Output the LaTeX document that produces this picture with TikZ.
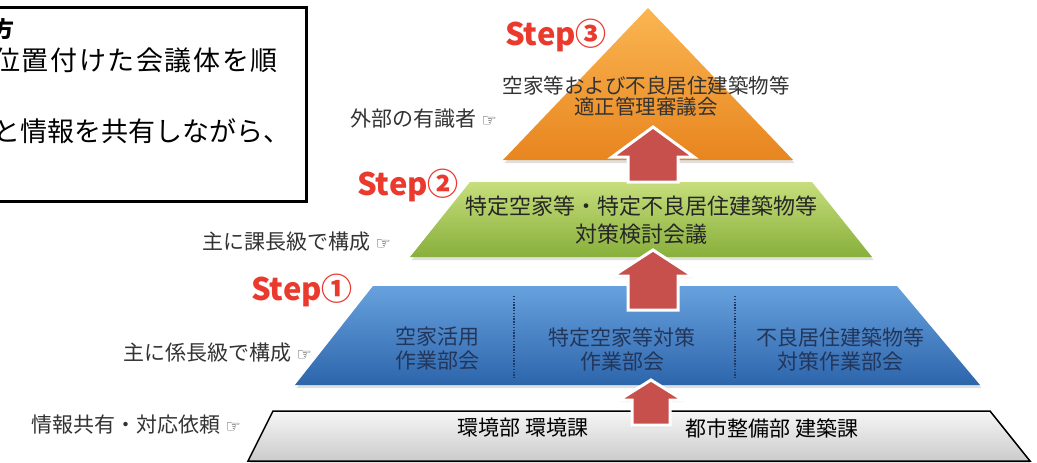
\documentclass[tikz,border=0pt]{standalone}
\usepackage{fontspec}
\newfontfamily\jp{Noto Sans CJK JP}
\newfontfamily\sym{DejaVu Sans}
\usetikzlibrary{shadows}
\definecolor{orgtop}{HTML}{FAB652}
\definecolor{orgbot}{HTML}{E8851F}
\definecolor{grntop}{HTML}{C6DE7C}
\definecolor{grnbot}{HTML}{88AF3B}
\definecolor{blutop}{HTML}{67A1DD}
\definecolor{blubot}{HTML}{2D65AC}
\definecolor{graytop}{HTML}{F6F6F6}
\definecolor{graybot}{HTML}{CBCBCB}
\definecolor{arrred}{HTML}{C8504C}
\definecolor{stepred}{HTML}{EA3A2E}
\definecolor{lblgray}{HTML}{333333}
\definecolor{navytxt}{HTML}{22355A}
\definecolor{divnavy}{HTML}{1F3864}
\newcommand\myuparrow[7]{% name, cx, tip, headbase, bottom, head half width, shaft half width
  \path[arrowst] (#2,#3) coordinate (#1tip) -- (#2+#6,#4) -- (#2+#7,#4) -- (#2+#7,#5) -- (#2-#7,#5) -- (#2-#7,#4) -- (#2-#6,#4) -- cycle;}
\newcommand\myhand{{\sym\fontsize{17}{17}\selectfont ☞}}
\begin{document}
\begin{tikzpicture}[x=1pt,y=-1pt,
  lbl/.style={font=\jp\fontsize{21}{24}\selectfont, text=lblgray, anchor=east, inner sep=0pt},
  steplbl/.style={font=\jp\bfseries\fontsize{31}{31}\selectfont, text=stepred, inner sep=0pt},
  lvl/.style={drop shadow={opacity=0.25, shadow xshift=1.5pt, shadow yshift=-3pt}},
  boxtxt/.style={font=\jp\fontsize{27}{30}\selectfont, anchor=east, inner sep=0pt},
  intxt/.style={align=center, inner sep=0pt},
  divider/.style={draw=divnavy, line width=1.8pt, dash pattern=on 1.4pt off 1.4pt},
  arrowst/.style={fill=arrred, draw=white, line width=3pt, line join=miter,
    drop shadow={opacity=0.2, shadow xshift=1pt, shadow yshift=-2pt}}]
\useasboundingbox (0,0) rectangle (1037,463);

% note box (cut by the left edge)
\path[draw=black, line width=3pt, fill=white,
  drop shadow={opacity=0.3, shadow xshift=2pt, shadow yshift=-2pt}]
  (-20,7) coordinate (boxnw) rectangle (306,201) coordinate (boxse);
\node[boxtxt, font=\jp\bfseries\fontsize{22}{24}\selectfont] (bx1) at (15,29) {方};
\node[boxtxt, font=\jp\fontsize{27}{30}\selectfont\addfontfeature{LetterSpace=6}] (bx2) at (278,60) {位置付けた会議体を順};
\node[boxtxt] (bx3) at (291,131) {と情報を共有しながら、};

% levels
\coordinate (o1) at (648,8);
\coordinate (o2) at (793,160);
\coordinate (o3) at (503,160);
\path[lvl, top color=orgtop, bottom color=orgbot] (o1) -- (o2) -- (o3) -- cycle;

\coordinate (g1) at (470,182);
\coordinate (g2) at (812,182);
\coordinate (g3) at (872,257);
\coordinate (g4) at (410,257);
\path[lvl, top color=grntop, bottom color=grnbot] (g1) -- (g2) -- (g3) -- (g4) -- cycle;

\coordinate (b1) at (373,286);
\coordinate (b2) at (897,286);
\coordinate (b3) at (980,385);
\coordinate (b4) at (295,385);
\path[lvl, top color=blutop, bottom color=blubot] (b1) -- (b2) -- (b3) -- (b4) -- cycle;

\coordinate (w1) at (273,411);
\coordinate (w2) at (990,411);
\coordinate (w3) at (1030,461);
\coordinate (w4) at (248,461);
\path[lvl, top color=graytop, bottom color=graybot, draw=black, line width=1.5pt, line join=miter]
  (w1) -- (w2) -- (w3) -- (w4) -- cycle;

% dotted dividers
\coordinate (d1t) at (514,296); \coordinate (d1b) at (514,378);
\coordinate (d2t) at (735,296); \coordinate (d2b) at (735,378);
\draw[divider] (d1t) -- (d1b);
\draw[divider] (d2t) -- (d2b);

% texts inside levels
\node[intxt, font=\jp\fontsize{20.5}{21.5}\selectfont, text=lblgray] (t3) at (646,96)
  {空家等および不良居住建築物等\\適正管理審議会};
\node[intxt, font=\jp\fontsize{22}{28}\selectfont, text=black!85] (t2) at (641,220)
  {特定空家等・特定不良居住建築物等\\対策検討会議};
\node[intxt, font=\jp\fontsize{21}{24}\selectfont, text=navytxt] (t1a) at (437,349) {空家活用\\作業部会};
\node[intxt, font=\jp\fontsize{21}{24}\selectfont, text=navytxt] (t1b) at (622,349) {特定空家等対策\\作業部会};
\node[intxt, font=\jp\fontsize{21}{24}\selectfont, text=navytxt] (t1c) at (840,349) {不良居住建築物等\\対策作業部会};
\node[intxt, font=\jp\fontsize{21}{24}\selectfont, text=black] (t0a) at (523,428) {環境部 環境課};
\node[intxt, font=\jp\fontsize{21}{24}\selectfont, text=black] (t0b) at (772,428) {都市整備部 建築課};

% left labels
\node[lbl] (l3) at (497,119) {外部の有識者 \myhand};
\node[lbl] (l2) at (391,242) {主に課長級で構成 \myhand};
\node[lbl] (l1) at (312,353) {主に係長級で構成 \myhand};
\node[lbl] (l0) at (241,425) {情報共有・対応依頼 \myhand};

% arrows
\myuparrow{a3}{653}{127}{157}{182}{41}{25}
\myuparrow{a2}{653}{250}{276}{310}{40}{25}
\myuparrow{a1}{651}{380}{400}{425}{32}{19}

% step labels
\node[steplbl] (s3) at (556,35) {Step③};
\node[steplbl] (s2) at (408,185) {Step②};
\node[steplbl] (s1) at (302,290) {Step①};
\end{tikzpicture}
\end{document}
